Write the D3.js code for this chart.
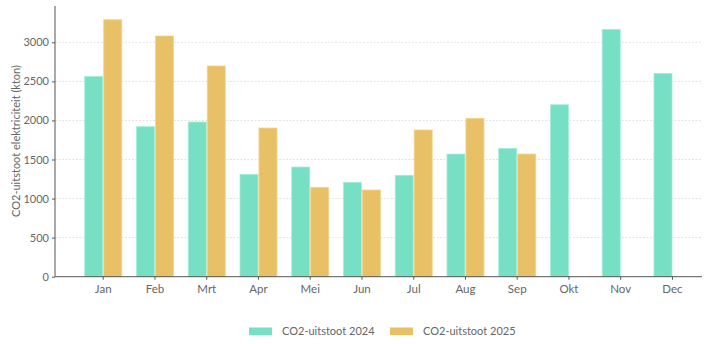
<!DOCTYPE html>
<html><head><meta charset="utf-8">
<script src="https://cdn.jsdelivr.net/npm/d3@7"></script>
<style>
body{margin:0;background:#fff;}
text{font-family:Lato,"Open Sans",sans-serif;font-weight:400;}
</style></head>
<body><svg id="c" width="714" height="344"></svg>
<script>
const months = ["Jan","Feb","Mrt","Apr","Mei","Jun","Jul","Aug","Sep","Okt","Nov","Dec"];
const series = ["CO2-uitstoot 2024","CO2-uitstoot 2025"];
const values2024 = [2565,1920,1980,1311,1404,1208,1298,1570,1643,2201,3166,2603];
const values2025 = [3289,3081,2697,1903,1144,1110,1878,2027,1570,null,null,null];
const yTicks = [0,500,1000,1500,2000,2500,3000];
const colors = ["#76dfc4","#e8c066"];
const strokes = ["#a6eedb","#f3d48e"];

const svg = d3.select("#c");
const x0 = 55, x1 = 702, yTop = 6, yBase = 276.7;
const y = d3.scaleLinear().domain([0,3465]).range([yBase,yTop]);
const x = d3.scaleBand().domain(months).range([77.5,698.2]).paddingInner(0.285).paddingOuter(0.14);
const xs = d3.scaleBand().domain(series).range([0,x.bandwidth()]).paddingInner(0.05);

// gridlines
svg.append("g").selectAll("line").data(yTicks.filter(d=>d>0)).join("line")
  .attr("x1",x0).attr("x2",x1).attr("y1",d=>y(d)).attr("y2",d=>y(d))
  .attr("stroke","#e3e3e3").attr("stroke-width",1).attr("stroke-dasharray","2,1.5");

// bars
const data = months.map((m,i)=>({m, vals:[values2024[i],values2025[i]]}));
const g = svg.append("g").selectAll("g").data(data).join("g")
  .attr("transform",d=>`translate(${x(d.m)},0)`);
g.selectAll("rect").data(d=>d.vals.map((v,j)=>({v,j})).filter(e=>e.v!=null)).join("rect")
  .attr("x",e=>xs(series[e.j])).attr("width",xs.bandwidth())
  .attr("y",e=>y(e.v)).attr("height",e=>yBase-y(e.v))
  .attr("fill",e=>colors[e.j]).attr("stroke",e=>strokes[e.j]).attr("stroke-width",0.8);

const font = "Lato,'Open Sans',sans-serif";
const tc = "#666";
// y axis
const yAxis = svg.append("g").attr("transform",`translate(${x0},0)`)
  .call(d3.axisLeft(y).tickValues(yTicks).tickFormat(d3.format("d")).tickSize(3).tickPadding(3));
yAxis.select(".domain").remove();
yAxis.append("line").attr("x1",0).attr("x2",0).attr("y1",yTop).attr("y2",yBase).attr("stroke","#555");
yAxis.selectAll(".tick line").attr("stroke","#555");
yAxis.selectAll(".tick text").attr("fill",tc).style("font-size","11px").style("font-family",font).style("font-weight",400);

// x axis
const xAxis = svg.append("g").attr("transform",`translate(0,${yBase})`)
  .call(d3.axisBottom(x).tickSize(3).tickPadding(5));
xAxis.select(".domain").remove();
xAxis.append("line").attr("x1",x0).attr("x2",x1).attr("stroke","#555");
xAxis.selectAll(".tick line").attr("stroke","#555");
xAxis.selectAll(".tick text").attr("fill",tc).style("font-size","11.5px").style("font-family",font).style("font-weight",400);

// y title
svg.append("text").attr("transform","translate(20,141) rotate(-90)")
  .attr("text-anchor","middle").attr("fill",tc).style("font-size","11px")
  .text("CO2-uitstoot elektriciteit (kton)");

// legend
const legX = [249,390];
const lg = svg.append("g").selectAll("g").data(series).join("g")
  .attr("transform",(d,i)=>`translate(${legX[i]},327.5)`);
lg.append("rect").attr("width",23).attr("height",7.5).attr("fill",(d,i)=>colors[i]);
lg.append("text").attr("x",33).attr("y",7.5).attr("fill",tc).style("font-size","11px").text(d=>d);
</script></body></html>
